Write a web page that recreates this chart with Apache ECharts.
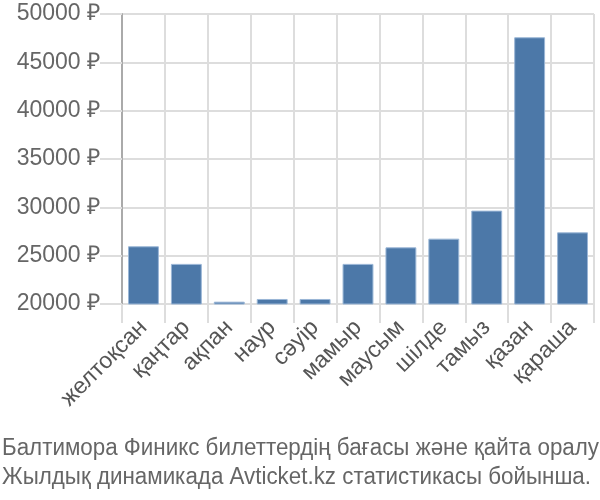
<!DOCTYPE html>
<html><head><meta charset="utf-8">
<script src="https://cdn.jsdelivr.net/npm/echarts@6/dist/echarts.min.js"></script>
<style>html,body{margin:0;padding:0;background:#fff}#c{width:600px;height:500px}</style>
</head><body><div id="c"></div>
<script>
var categories = ['желтоқсан','қаңтар','ақпан','наур','сәуір','мамыр','маусым','шілде','тамыз','қазан','қараша'];
var prices = [25970, 24150, 20240, 20520, 20520, 24150, 25860, 26760, 29660, 47590, 27410];
var titleLines = ['Балтимора Финикс билеттердің бағасы және қайта оралу','Жылдық динамикада Avticket.kz статистикасы бойынша.'];

var titleFont = '23px "Liberation Sans"';
var ctx = document.createElement('canvas').getContext('2d');
ctx.font = titleFont;
var w1 = ctx.measureText(titleLines[0]).width;
var sx = 597 / w1;

var chart = echarts.init(document.getElementById('c'), null, {renderer:'canvas'});
chart.setOption({
  animation:false,
  backgroundColor:'#fff',
  graphic:[{type:'group', left:2, top:437, scaleX:sx, children:[
    {type:'text', x:0, y:0, style:{text:titleLines[0], font:titleFont, fill:'#666'}},
    {type:'text', x:0, y:29, style:{text:titleLines[1], font:titleFont, fill:'#666'}}
  ]}],
  grid:{left:122, right:6, top:14, bottom:196, containLabel:false},
  xAxis:{type:'category', data:categories,
    axisLine:{show:false},
    axisTick:{show:true, length:19, lineStyle:{color:'#ddd', width:2}},
    splitLine:{show:true, lineStyle:{color:'#ddd', width:2}},
    axisLabel:{rotate:45, interval:0, fontFamily:'Liberation Sans', fontSize:23, color:'#555', margin:20}
  },
  yAxis:{type:'value', min:20000, max:50000, interval:5000,
    axisLine:{show:true, lineStyle:{color:'#aaa', width:2}},
    axisTick:{show:true, length:22, lineStyle:{color:'#ddd', width:2}},
    splitLine:{show:true, lineStyle:{color:'#ddd', width:2}},
    axisLabel:{formatter:function(v){return v+' ₽';}, fontFamily:'Liberation Sans', fontSize:23, color:'#666', margin:22}
  },
  series:[{type:'bar', data:prices, barCategoryGap:'28%',
    itemStyle:{color:'#4c78a8', borderColor:'#9ab6d6', borderWidth:1}}]
});
</script></body></html>
